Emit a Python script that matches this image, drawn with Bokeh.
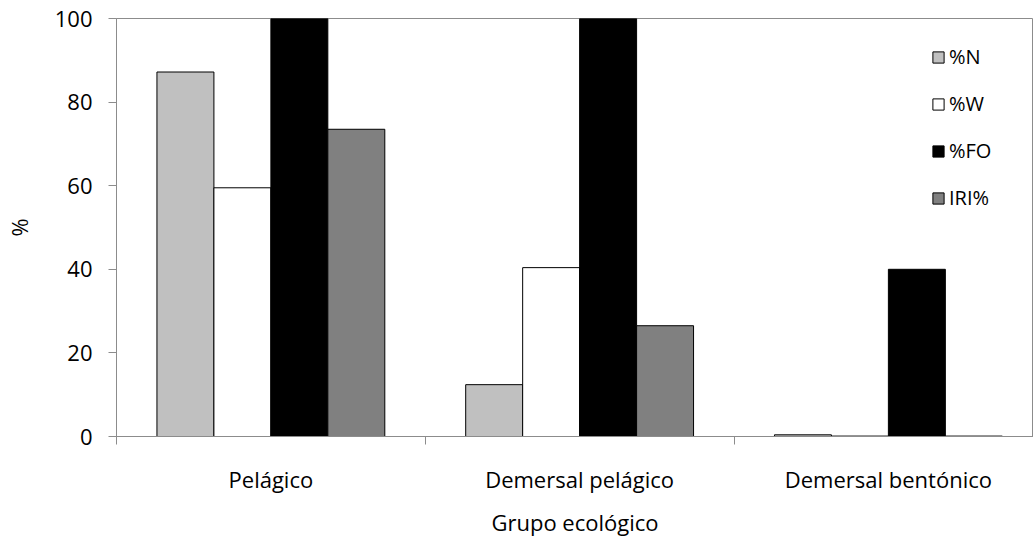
from bokeh.plotting import figure
from bokeh.models import Range1d, FixedTicker, ColumnDataSource, Legend, LegendItem
from bokeh.transform import dodge
from bokeh.embed import file_html
from bokeh.resources import INLINE

groups = ["Pelágico", "Demersal pelágico", "Demersal bentónico"]
series = ["%N", "%W", "%FO", "IRI%"]
pct_n = [87.2, 12.4, 0.4]
pct_w = [59.5, 40.4, 0.1]
pct_fo = [100.0, 100.0, 40.0]
iri = [73.5, 26.5, 0.1]
y_ticks = [0, 20, 40, 60, 80, 100]

colors = ["#C0C0C0", "#FFFFFF", "#000000", "#808080"]
FONT = "Open Sans"
FS = "22px"

xs = [i + 0.5 for i in range(len(groups))]
src = ColumnDataSource(dict(x=xs, n=pct_n, w=pct_w, fo=pct_fo, iri=iri))

p = figure(width=1033, height=543, output_backend="svg", toolbar_location=None,
           x_range=Range1d(0, 2.97), y_range=Range1d(0, 100),
           min_border_left=116, min_border_right=0, min_border_top=18, min_border_bottom=107)
p.grid.visible = False
p.outline_line_color = "#8C8C8C"
p.background_fill_color = "white"
p.border_fill_color = "white"

bw = 0.1845
cols = ["n", "w", "fo", "iri"]
renderers = []
for i, c in enumerate(cols):
    r = p.vbar(x=dodge("x", (i - 1.5) * bw), top=c, width=bw, source=src,
               fill_color=colors[i], line_color="black", line_width=1)
    renderers.append(r)

legend = Legend(items=[LegendItem(label=s, renderers=[r]) for s, r in zip(series, renderers)],
                location=(815, 225), border_line_color=None, background_fill_alpha=0,
                label_text_font=FONT, label_text_font_size="20px", label_text_color="black",
                spacing=20, glyph_width=14, glyph_height=14, label_standoff=4,
                margin=0, padding=0, label_height=27)
p.add_layout(legend)

xa = p.xaxis[0]
xa.ticker = FixedTicker(ticks=xs, minor_ticks=[0, 1, 2, 3])
xa.major_label_overrides = {x: g for x, g in zip(xs, groups)}
xa.major_tick_line_color = None
xa.minor_tick_in = 0
xa.minor_tick_out = 8
xa.minor_tick_line_color = "#8C8C8C"
xa.axis_line_color = "#8C8C8C"
xa.major_label_standoff = 19
xa.major_label_text_font = FONT
xa.major_label_text_font_size = FS
xa.major_label_text_color = "black"
xa.axis_label = "Grupo ecológico"
xa.axis_label_text_font = FONT
xa.axis_label_text_font_style = "normal"
xa.axis_label_text_font_size = FS
xa.axis_label_text_color = "black"
xa.axis_label_standoff = 10

ya = p.yaxis[0]
ya.ticker = FixedTicker(ticks=y_ticks)
ya.minor_tick_line_color = None
ya.major_tick_in = 0
ya.major_tick_out = 8
ya.major_tick_line_color = "#8C8C8C"
ya.axis_line_color = "#8C8C8C"
ya.major_label_standoff = 16
ya.major_label_text_font = FONT
ya.major_label_text_font_size = FS
ya.major_label_text_color = "black"
ya.axis_label = "%"
ya.axis_label_text_font = FONT
ya.axis_label_text_font_style = "normal"
ya.axis_label_text_font_size = FS
ya.axis_label_text_color = "black"
ya.axis_label_standoff = 18

open("out.html", "w").write(file_html(p, INLINE))
